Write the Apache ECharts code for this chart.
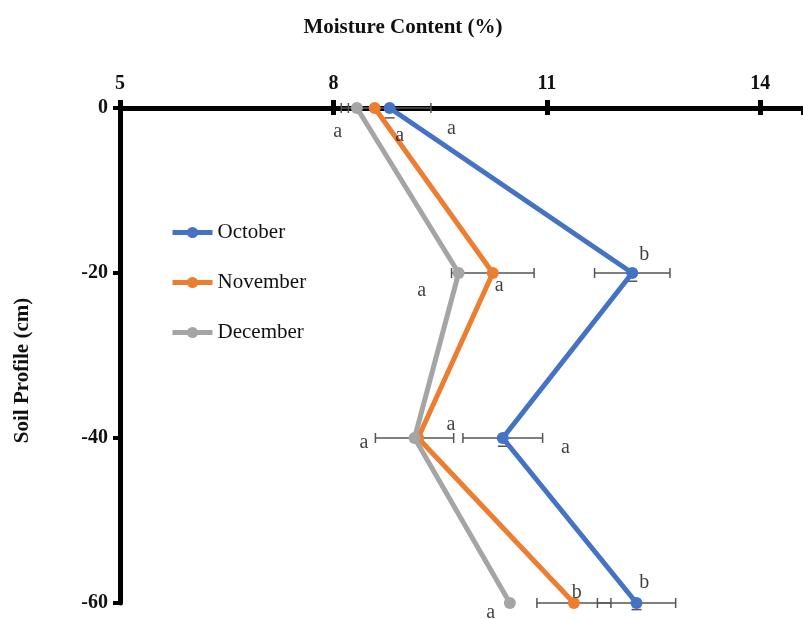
<!DOCTYPE html>
<html>
<head>
<meta charset="utf-8">
<script src="https://cdn.jsdelivr.net/npm/echarts@6/dist/echarts.min.js"></script>
<style>html,body{margin:0;padding:0;background:#fff}#c{width:803px;height:619px}</style>
</head>
<body>
<div id="c"></div>
<script>
const depths = [0, -20, -40, -60];
const xTicks = [5, 8, 11, 14];
const seriesNames = ['October', 'November', 'December'];
const october = [8.79, 12.2, 10.38, 12.26];
const november = [8.58, 10.24, 9.19, 11.38];
const december = [8.33, 9.76, 9.14, 10.48];
const octErr = [0.58, 0.53, 0.56, 0.55];
const novErr = [null, 0.58, null, 0.52];
const decErr = [0.22, null, 0.55, null];
const octYErr = [1.2, 1.0, 1.0, 0.8];
const letterText = ['a', 'a', 'a', 'b', 'a', 'a', 'a', 'a', 'a', 'b', 'b', 'a'];
const letterX = [8.06, 8.93, 9.66, 12.37, 10.33, 9.24, 8.43, 9.65, 11.26, 11.42, 12.37, 10.21];
const letterY = [-2.9, -3.4, -2.5, -17.8, -21.5, -22.2, -40.6, -38.4, -41.2, -58.7, -57.6, -61.2];

const colors = ['#4472C4', '#ED7D31', '#A5A5A5'];
const values = [october, november, december];
const errs = [octErr, novErr, decErr];
const serif = '"Liberation Serif", "DejaVu Serif", serif';

const chart = echarts.init(document.getElementById('c'));

const series = [];
const errData = [];
values.forEach((vals, si) => {
  vals.forEach((v, i) => {
    const e = errs[si][i];
    if (e != null) errData.push([v - e, v + e, depths[i], 0]);
  });
});
october.forEach((v, i) => {
  errData.push([v, v, depths[i] - octYErr[i], 1, depths[i] + octYErr[i]]);
});
series.push({
  type: 'custom',
  z: 1,
  silent: true,
  clip: false,
  renderItem: function (params, api) {
    const kind = api.value(3);
    const style = { stroke: '#555', lineWidth: 1.5, fill: null };
    if (kind === 0) {
      const p1 = api.coord([api.value(0), api.value(2)]);
      const p2 = api.coord([api.value(1), api.value(2)]);
      const h = 5;
      return {
        type: 'group',
        children: [
          { type: 'line', shape: { x1: p1[0], y1: p1[1], x2: p2[0], y2: p2[1] }, style },
          { type: 'line', shape: { x1: p1[0], y1: p1[1] - h, x2: p1[0], y2: p1[1] + h }, style },
          { type: 'line', shape: { x1: p2[0], y1: p2[1] - h, x2: p2[0], y2: p2[1] + h }, style }
        ]
      };
    } else {
      const p1 = api.coord([api.value(0), api.value(2)]);
      const p2 = api.coord([api.value(0), api.value(4)]);
      const w = 5;
      return {
        type: 'group',
        children: [
          { type: 'line', shape: { x1: p1[0], y1: p1[1], x2: p2[0], y2: p2[1] }, style },
          { type: 'line', shape: { x1: p1[0] - w, y1: p1[1], x2: p1[0] + w, y2: p1[1] }, style },
          { type: 'line', shape: { x1: p2[0] - w, y1: p2[1], x2: p2[0] + w, y2: p2[1] }, style }
        ]
      };
    }
  },
  data: errData
});
seriesNames.forEach((name, si) => {
  series.push({
    name,
    type: 'line',
    z: 3 + si,
    clip: false,
    symbol: 'circle',
    symbolSize: 12,
    lineStyle: { width: 5, color: colors[si] },
    itemStyle: { color: colors[si] },
    data: values[si].map((v, i) => [v, depths[i]])
  });
});
series.push({
  type: 'scatter',
  z: 10,
  clip: false,
  silent: true,
  symbolSize: 1,
  itemStyle: { color: 'rgba(0,0,0,0)' },
  label: {
    show: true,
    position: 'inside',
    formatter: p => letterText[p.dataIndex],
    fontFamily: serif,
    fontSize: 20,
    color: '#111'
  },
  data: letterX.map((x, i) => [x, letterY[i]])
});

chart.setOption({
  animation: false,
  backgroundColor: '#fff',
  title: {
    text: 'Moisture Content (%)',
    left: 398,
    textAlign: 'center',
    top: 12,
    textStyle: { fontFamily: serif, fontWeight: 'bold', fontSize: 21, color: '#111' }
  },
  legend: {
    orient: 'vertical',
    left: 165,
    top: 217,
    itemGap: 29,
    itemWidth: 40,
    itemHeight: 14,
    data: seriesNames,
    lineStyle: { width: 5 },
    textStyle: { fontFamily: serif, fontSize: 21, color: '#111' }
  },
  grid: { left: 120, top: 108, right: 0, bottom: 16, containLabel: false },
  xAxis: [{
    type: 'value',
    position: 'top',
    min: 5,
    max: 14.6,
    interval: 3,
    axisLine: { show: true, lineStyle: { color: '#000', width: 5 } },
    axisTick: { show: true, length: 8, lineStyle: { color: '#000', width: 5 } },
    axisLabel: {
      showMaxLabel: false,
      margin: 14,
      fontFamily: serif, fontWeight: 'bold', fontSize: 20, color: '#111',
      formatter: v => (xTicks.indexOf(v) >= 0 ? String(v) : '')
    },
    splitLine: { show: false }
  }, {
    type: 'value',
    position: 'top',
    min: 5,
    max: 14.6,
    interval: 3,
    axisLine: { show: false },
    axisTick: { show: true, inside: true, length: 7, lineStyle: { color: '#000', width: 5 } },
    axisLabel: { show: false },
    splitLine: { show: false }
  }],
  yAxis: {
    type: 'value',
    min: -60,
    max: 0,
    interval: 20,
    name: 'Soil Profile (cm)',
    nameLocation: 'middle',
    nameRotate: 90,
    nameGap: 87,
    nameTextStyle: { fontFamily: serif, fontWeight: 'bold', fontSize: 21, color: '#111', padding: [0, 0, 0, -30] },
    axisLine: { show: true, lineStyle: { color: '#000', width: 5 } },
    axisTick: { show: true, length: 7, lineStyle: { color: '#000', width: 4 } },
    axisLabel: { margin: 12, fontFamily: serif, fontWeight: 'bold', fontSize: 20, color: '#111' },
    splitLine: { show: false }
  },
  series
});
</script>
</body>
</html>
